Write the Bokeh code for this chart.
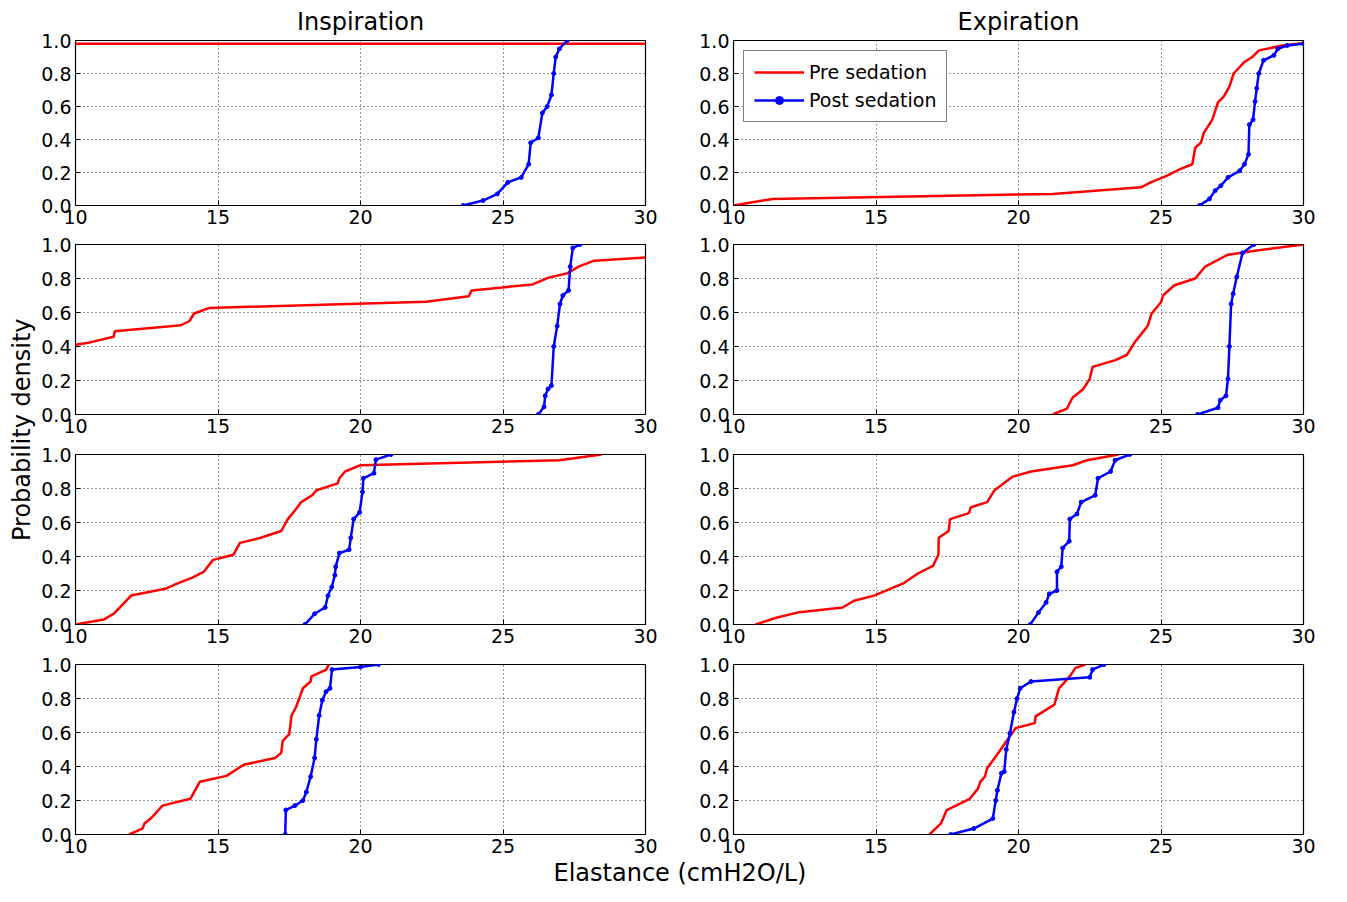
from bokeh.plotting import figure
from bokeh.layouts import gridplot, column, row
from bokeh.models import FixedTicker, PrintfTickFormatter, Div, Range1d, Legend, LegendItem
from bokeh.embed import file_html
from bokeh.resources import INLINE

FONT = "DejaVu Sans"

# --- data: (x, y) points, panel by panel ---
# row 1
insp1_pre_x = [10, 30]
insp1_pre_y = [0.98, 0.98]
insp1_post_x = [23.6, 24.3, 24.8, 25.17, 25.64, 25.9, 25.97, 26.24, 26.38, 26.55, 26.7, 26.78, 26.85, 26.98, 27.25]
insp1_post_y = [0.0, 0.03, 0.07, 0.14, 0.17, 0.25, 0.38, 0.41, 0.56, 0.6, 0.67, 0.8, 0.9, 0.95, 1.0]
exp1_pre_x = [10, 11.37, 21.2, 24.3, 24.64, 25.2, 25.67, 26.1, 26.2, 26.4, 26.5, 26.8, 27.0, 27.2, 27.4, 27.55, 27.93, 28.2, 28.44, 29.27, 30]
exp1_pre_y = [0.0, 0.04, 0.07, 0.11, 0.14, 0.18, 0.22, 0.25, 0.35, 0.38, 0.44, 0.52, 0.625, 0.66, 0.72, 0.8, 0.87, 0.9, 0.94, 0.97, 0.985]
exp1_post_x = [26.35, 26.7, 26.9, 27.1, 27.35, 27.76, 27.93, 28.07, 28.1, 28.23, 28.3, 28.36, 28.43, 28.6, 28.96, 29.1, 29.43, 30]
exp1_post_y = [0.0, 0.04, 0.09, 0.12, 0.17, 0.21, 0.25, 0.31, 0.49, 0.52, 0.63, 0.71, 0.8, 0.88, 0.91, 0.95, 0.97, 0.98]
# row 2
insp2_pre_x = [10, 10.4, 11.34, 11.38, 13.7, 14.0, 14.16, 14.7, 22.3, 23.8, 23.9, 26.04, 26.58, 27.25, 27.65, 28.2, 30]
insp2_pre_y = [0.41, 0.42, 0.457, 0.49, 0.525, 0.55, 0.594, 0.627, 0.663, 0.696, 0.73, 0.765, 0.804, 0.83, 0.87, 0.905, 0.924]
insp2_post_x = [26.24, 26.44, 26.48, 26.58, 26.7, 26.78, 26.9, 27.0, 27.1, 27.3, 27.36, 27.45, 27.7]
insp2_post_y = [0.0, 0.045, 0.11, 0.15, 0.17, 0.4, 0.52, 0.65, 0.7, 0.73, 0.87, 0.98, 1.0]
exp2_pre_x = [21.2, 21.7, 21.9, 22.26, 22.5, 22.6, 23.4, 23.8, 24.06, 24.53, 24.67, 25.0, 25.07, 25.47, 26.2, 26.55, 27.35, 28.36, 30]
exp2_pre_y = [0.0, 0.035, 0.1, 0.147, 0.21, 0.28, 0.32, 0.35, 0.42, 0.52, 0.594, 0.66, 0.7, 0.76, 0.8, 0.87, 0.94, 0.965, 1.0]
exp2_post_x = [26.28, 27.0, 27.08, 27.28, 27.35, 27.4, 27.46, 27.53, 27.66, 27.86, 28.26]
exp2_post_y = [0.0, 0.04, 0.084, 0.11, 0.21, 0.4, 0.65, 0.71, 0.81, 0.95, 1.0]
# row 3
insp3_pre_x = [10, 11.0, 11.34, 11.95, 13.15, 13.56, 14.1, 14.5, 14.83, 15.54, 15.77, 16.5, 17.22, 17.45, 17.72, 17.92, 18.3, 18.46, 19.2, 19.26, 19.46, 20.0, 26.98, 28.46]
insp3_pre_y = [0.0, 0.03, 0.063, 0.17, 0.21, 0.24, 0.276, 0.31, 0.38, 0.41, 0.48, 0.51, 0.55, 0.62, 0.675, 0.72, 0.76, 0.79, 0.83, 0.86, 0.9, 0.937, 0.966, 1.0]
insp3_post_x = [18.05, 18.39, 18.76, 18.86, 18.99, 19.1, 19.13, 19.26, 19.6, 19.66, 19.76, 19.97, 20.07, 20.1, 20.47, 20.54, 21.07]
insp3_post_y = [0.0, 0.063, 0.1, 0.17, 0.22, 0.29, 0.34, 0.42, 0.44, 0.51, 0.62, 0.66, 0.78, 0.86, 0.89, 0.97, 1.0]
exp3_pre_x = [10.77, 11.5, 12.24, 13.83, 14.23, 14.93, 15.94, 16.47, 17.0, 17.19, 17.2, 17.55, 17.6, 18.26, 18.33, 18.9, 19.16, 19.8, 20.44, 21.9, 22.4, 23.5]
exp3_pre_y = [0.0, 0.04, 0.07, 0.1, 0.14, 0.17, 0.24, 0.3, 0.345, 0.41, 0.51, 0.55, 0.62, 0.655, 0.69, 0.72, 0.79, 0.87, 0.9, 0.937, 0.966, 1.0]
exp3_post_x = [20.41, 20.7, 20.97, 21.08, 21.35, 21.35, 21.5, 21.55, 21.78, 21.8, 22.05, 22.2, 22.69, 22.79, 23.23, 23.39, 23.9]
exp3_post_y = [0.0, 0.07, 0.13, 0.18, 0.2, 0.31, 0.34, 0.45, 0.49, 0.62, 0.65, 0.72, 0.76, 0.86, 0.9, 0.966, 1.0]
# row 4
insp4_pre_x = [11.88, 12.35, 12.42, 12.68, 13.05, 14.03, 14.36, 15.3, 15.9, 17.0, 17.22, 17.27, 17.5, 17.58, 17.74, 17.98, 18.25, 18.28, 18.8, 18.89]
insp4_pre_y = [0.0, 0.035, 0.065, 0.1, 0.17, 0.21, 0.31, 0.345, 0.41, 0.45, 0.48, 0.55, 0.59, 0.7, 0.75, 0.86, 0.9, 0.93, 0.97, 1.0]
insp4_post_x = [17.36, 17.38, 17.7, 17.98, 18.1, 18.25, 18.39, 18.45, 18.55, 18.66, 18.79, 18.93, 19.0, 20.0, 20.63]
insp4_post_y = [0.0, 0.144, 0.17, 0.2, 0.25, 0.34, 0.45, 0.56, 0.7, 0.79, 0.84, 0.86, 0.97, 0.985, 1.0]
exp4_pre_x = [16.88, 17.28, 17.48, 18.29, 18.58, 18.66, 18.82, 18.9, 19.21, 19.9, 20.57, 20.6, 21.26, 21.42, 21.8, 22.0, 22.35]
exp4_pre_y = [0.0, 0.065, 0.144, 0.21, 0.27, 0.31, 0.34, 0.39, 0.46, 0.626, 0.655, 0.695, 0.764, 0.86, 0.93, 0.98, 1.0]
exp4_post_x = [17.62, 18.43, 19.1, 19.2, 19.26, 19.4, 19.5, 19.57, 19.7, 19.84, 19.95, 20.06, 20.44, 22.5, 22.6, 23.0]
exp4_post_y = [0.0, 0.035, 0.094, 0.2, 0.26, 0.36, 0.37, 0.5, 0.596, 0.72, 0.8, 0.86, 0.9, 0.925, 0.97, 1.0]

panels = [
    [(insp1_pre_x, insp1_pre_y, insp1_post_x, insp1_post_y), (exp1_pre_x, exp1_pre_y, exp1_post_x, exp1_post_y)],
    [(insp2_pre_x, insp2_pre_y, insp2_post_x, insp2_post_y), (exp2_pre_x, exp2_pre_y, exp2_post_x, exp2_post_y)],
    [(insp3_pre_x, insp3_pre_y, insp3_post_x, insp3_post_y), (exp3_pre_x, exp3_pre_y, exp3_post_x, exp3_post_y)],
    [(insp4_pre_x, insp4_pre_y, insp4_post_x, insp4_post_y), (exp4_pre_x, exp4_pre_y, exp4_post_x, exp4_post_y)],
]
titles = ["Inspiration", "Expiration"]
x_ticks = [10, 15, 20, 25, 30]
y_ticks = [0.0, 0.2, 0.4, 0.6, 0.8, 1.0]

rows = []
for r, pair in enumerate(panels):
    figs = []
    for c, (px, py, qx, qy) in enumerate(pair):
        top = 35 if r == 0 else 10
        bottom = 29 if r == 0 else (26 if r == 3 else 30)
        left, right = 40, (48 if c == 0 else 20)
        p = figure(width=left + 570 + right, height=top + 170 + bottom,
                   x_range=Range1d(10, 30), y_range=Range1d(0, 1),
                   output_backend="svg", toolbar_location=None,
                   min_border_left=left, min_border_right=right,
                   min_border_top=top, min_border_bottom=bottom,
                   title=titles[c] if r == 0 else None)
        if r == 0:
            p.title.text_font = FONT
            p.title.text_font_size = "24px"
            p.title.text_font_style = "normal"
            p.title.text_color = "black"
            p.title.align = "center"
        red = p.line(px, py, color="red", line_width=2.5)
        blue = p.line(qx, qy, color="blue", line_width=2.5)
        blue_pts = p.scatter(qx, qy, color="blue", size=4)
        p.xaxis.ticker = FixedTicker(ticks=x_ticks)
        p.yaxis.ticker = FixedTicker(ticks=y_ticks)
        p.yaxis.formatter = PrintfTickFormatter(format="%.1f")
        for ax in (p.xaxis, p.yaxis):
            ax.major_label_text_font = FONT
            ax.major_label_text_font_size = "19px"
            ax.major_label_text_color = "black"
            ax.major_tick_in = 5
            ax.major_tick_out = 0
            ax.minor_tick_line_color = None
            ax.axis_line_color = None
            ax.major_label_standoff = 4
        p.grid.grid_line_color = "black"
        p.grid.grid_line_dash = "1 3"
        p.grid.grid_line_alpha = 0.8
        p.outline_line_color = "black"
        p.outline_line_width = 1.2
        if r == 0 and c == 1:
            legend = Legend(items=[LegendItem(label="Pre sedation", renderers=[red]),
                                   LegendItem(label="Post sedation", renderers=[blue, blue_pts])],
                            location="top_left")
            legend.label_text_font = FONT
            legend.label_text_font_size = "19px"
            legend.label_text_color = "black"
            legend.border_line_color = "black"
            legend.glyph_width = 50
            legend.spacing = 6
            legend.margin = 10
            p.add_layout(legend)
        figs.append(p)
    rows.append(figs)

grid = gridplot(rows, toolbar_location=None)
ylabel = Div(text="Probability density", width=25, height=850,
             styles={"writing-mode": "vertical-rl", "transform": "rotate(180deg)",
                     "font-family": FONT, "font-size": "24px", "text-align": "center",
                     "display": "flex", "justify-content": "center", "color": "black"})
xlabel = Div(text="Elastance (cmH2O/L)", width=1300, height=26,
             styles={"font-family": FONT, "font-size": "24px", "text-align": "center",
                     "line-height": "26px", "margin": "0", "color": "black",
                     "width": "1300px", "padding-left": "60px"})
page = column(row(ylabel, grid), xlabel)

open("out.html", "w").write(file_html(page, INLINE))
